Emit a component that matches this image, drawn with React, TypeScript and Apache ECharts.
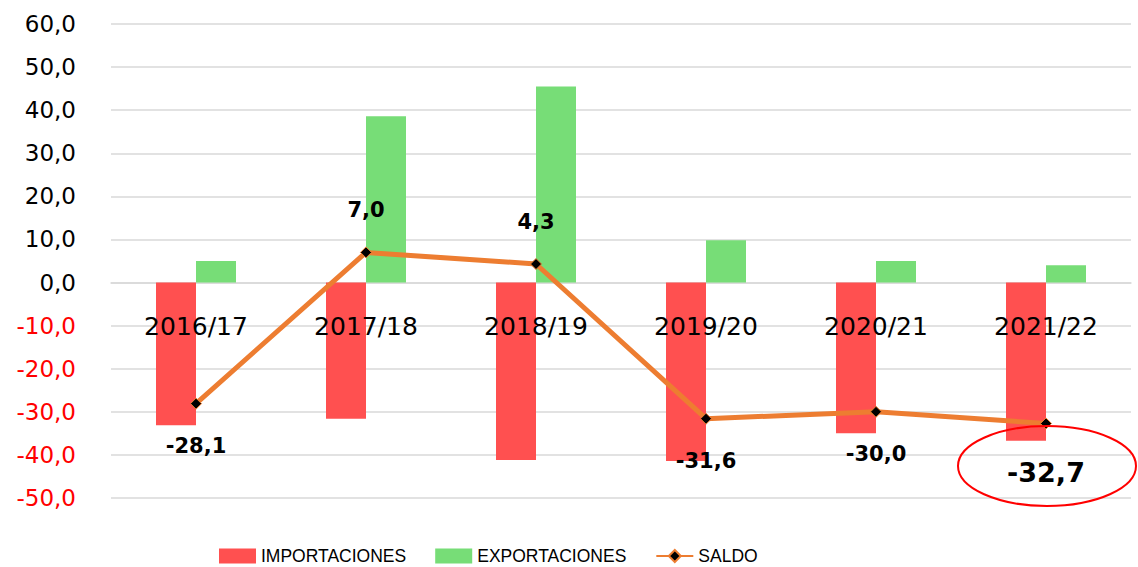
import React, { useEffect, useRef } from "react";
import * as echarts from "echarts";

const categories = ["2016/17", "2017/18", "2018/19", "2019/20", "2020/21", "2021/22"];
const importaciones = [-33.1, -31.6, -41.2, -41.4, -35.0, -36.7];
const exportaciones = [5.0, 38.6, 45.5, 9.8, 5.0, 4.0];
const saldo = [-28.1, 7.0, 4.3, -31.6, -30.0, -32.7];
const highlightIndex = 5;

const fmt = (v: number) => v.toFixed(1).replace(".", ",");

export default function App() {
  const ref = useRef<HTMLDivElement>(null);
  useEffect(() => {
    if (!ref.current) return;
    const chart = echarts.init(ref.current, null, { renderer: "svg" });
    const saldoData = saldo.map((v, i) => {
      const big = i === highlightIndex;
      return {
        value: v,
        label: {
          show: true,
          position: v < 0 ? "bottom" : "top",
          distance: big ? 30 : 26,
          fontSize: big ? 27 : 21,
          fontWeight: "bold",
          color: "#000",
          fontFamily: "DejaVu Sans",
          formatter: (p: any) => fmt(p.value),
        },
      };
    });
    const catLabelData = categories.map((c) => ({ value: [c, 0], name: c }));
    chart.setOption({
      animation: false,
      backgroundColor: "#fff",
      grid: { left: 111, right: 7, top: 24, bottom: 69, containLabel: false },
      legend: {
        bottom: -3,
        left: 214,
        itemWidth: 37,
        itemHeight: 15,
        itemGap: 29,
        textStyle: { fontSize: 17.5, color: "#000", fontFamily: "Liberation Sans Narrow, Liberation Sans, sans-serif" },
        data: [
          { name: "IMPORTACIONES", icon: "rect" },
          { name: "EXPORTACIONES", icon: "rect" },
          { name: "SALDO" },
        ],
      },
      xAxis: {
        type: "category",
        data: categories,
        axisLine: { show: true, onZero: true, lineStyle: { color: "#d9d9d9", width: 1.5 } },
        axisTick: { show: false },
        axisLabel: { show: false },
      },
      yAxis: {
        type: "value",
        min: -50,
        max: 60,
        interval: 10,
        axisLine: { show: false },
        axisTick: { show: false },
        splitLine: { lineStyle: { color: "#d9d9d9", width: 1.5 } },
        axisLabel: {
          margin: 35,
          formatter: (v: number) => (v < 0 ? `{n|${fmt(v)}}` : `{p|${fmt(v)}}`),
          rich: {
            n: { color: "#ff0000", fontSize: 23, fontFamily: "DejaVu Sans" },
            p: { color: "#000", fontSize: 23, fontFamily: "DejaVu Sans" },
          },
        },
      },
      series: [
        {
          name: "IMPORTACIONES",
          type: "bar",
          data: importaciones,
          barWidth: 40,
          barGap: "0%",
          itemStyle: { color: "#ff5050" },
        },
        {
          name: "EXPORTACIONES",
          type: "bar",
          data: exportaciones,
          barWidth: 40,
          barGap: "0%",
          itemStyle: { color: "#77dd77" },
        },
        {
          name: "catLabels",
          type: "scatter",
          data: catLabelData,
          symbolSize: 0,
          itemStyle: { color: "#000", opacity: 1 },
          z: 15,
          silent: true,
          label: {
            show: true,
            position: "bottom",
            distance: 31,
            fontSize: 25,
            color: "#000",
            opacity: 1,
            fontFamily: "DejaVu Sans",
            formatter: (p: any) => p.name,
          },
        },
        {
          name: "SALDO",
          type: "line",
          data: saldoData,
          z: 20,
          symbol: "diamond",
          symbolSize: 11,
          lineStyle: { color: "#ed7d31", width: 5 },
          itemStyle: { color: "#000", borderColor: "#ed7d31", borderWidth: 1 },
        },
      ],
      graphic: [
        {
          type: "ellipse",
          shape: { cx: 1047, cy: 466, rx: 89, ry: 40 },
          style: { fill: "none", stroke: "#ff0000", lineWidth: 2 },
          z: 100,
        },
      ],
    });
    return () => chart.dispose();
  }, []);
  return <div ref={ref} style={{ width: 1138, height: 567, position: "absolute", left: 0, top: 0 }} />;
}
